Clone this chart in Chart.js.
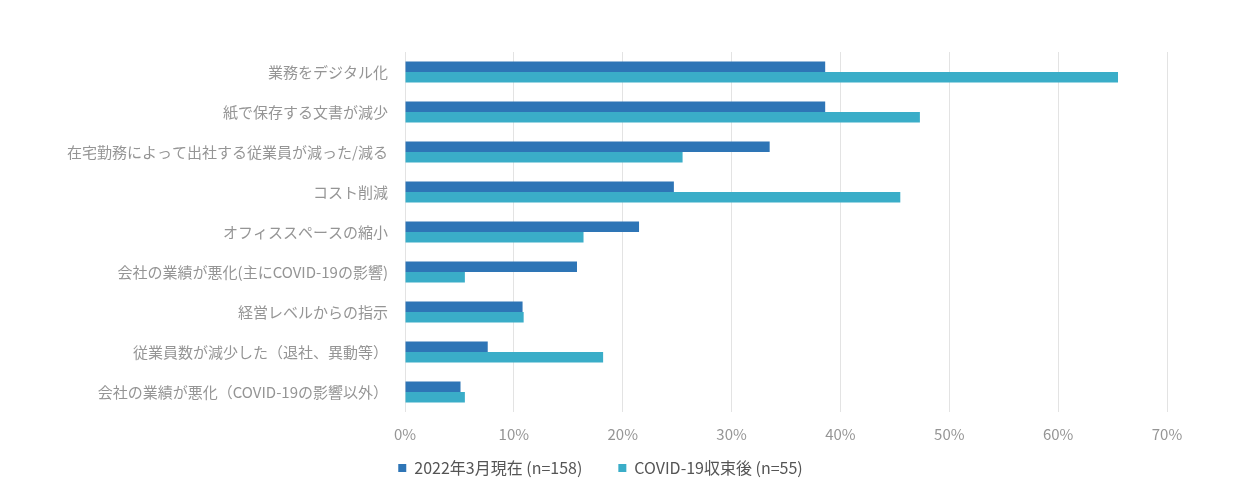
<!DOCTYPE html>
<html>
<head>
<meta charset="utf-8">
<script src="https://cdn.jsdelivr.net/npm/chart.js@4"></script>
<style>
html,body{margin:0;padding:0;background:#fff;}
#wrap{width:1256px;height:493px;}
</style>
</head>
<body>
<div id="wrap"><canvas id="c" width="1256" height="493"></canvas></div>
<script>
const categories = [
  "業務をデジタル化",
  "紙で保存する文書が減少",
  "在宅勤務によって出社する従業員が減った/減る",
  "コスト削減",
  "オフィススペースの縮小",
  "会社の業績が悪化(主にCOVID-19の影響)",
  "経営レベルからの指示",
  "従業員数が減少した（退社、異動等）",
  "会社の業績が悪化（COVID-19の影響以外）"
];
const seriesNames = ["2022年3月現在 (n=158)", "COVID-19収束後 (n=55)"];
const current2022 = [38.6, 38.6, 33.5, 24.7, 21.5, 15.8, 10.8, 7.6, 5.1];
const afterCovid = [65.5, 47.3, 25.5, 45.5, 16.4, 5.5, 10.9, 18.2, 5.5];
const tickValues = [0, 10, 20, 30, 40, 50, 60, 70];

const FONT = "'Noto Sans CJK JP', 'Noto Sans', sans-serif";
const GRAY = '#959595';

// nudge the legend block into the reference's place (layout only)
const legendNudge = {
  id: 'legendNudge',
  afterLayout(chart) {
    const lg = chart.legend;
    if (!lg) return;
    const dy = -32, dx = 17;
    lg.top += dy;
    lg.bottom = chart.height;
    lg.height = lg.bottom - lg.top;
    lg.left += dx; lg.right += dx;
  }
};

new Chart(document.getElementById('c'), {
  type: 'bar',
  data: {
    labels: categories,
    datasets: [
      { label: seriesNames[0], data: current2022, backgroundColor: '#2E75B6', borderWidth: 0 },
      { label: seriesNames[1], data: afterCovid, backgroundColor: '#3AADC8', borderWidth: 0 }
    ]
  },
  plugins: [legendNudge],
  options: {
    indexAxis: 'y',
    responsive: false,
    animation: false,
    devicePixelRatio: 1,
    categoryPercentage: 0.53,
    barPercentage: 1.0,
    layout: { padding: { top: 52, right: 89, left: 0, bottom: 0 } },
    plugins: {
      legend: {
        position: 'bottom',
        maxHeight: 37,
        labels: {
          boxWidth: 8, boxHeight: 8, padding: 36,
          color: '#555555',
          font: { family: FONT, size: 16 }
        }
      },
      tooltip: { enabled: false }
    },
    scales: {
      x: {
        min: 0, max: 70,
        afterBuildTicks: (s) => { s.ticks = tickValues.map(v => ({ value: v })); },
        ticks: {
          color: GRAY, padding: 13,
          font: { family: FONT, size: 15 },
          callback: (v) => v + '%'
        },
        grid: { color: '#e3e3e3', lineWidth: 1, drawTicks: false },
        border: { display: false }
      },
      y: {
        afterFit: (s) => { s.width = 405; },
        ticks: {
          color: GRAY, padding: 17,
          font: { family: FONT, size: 15 }
        },
        grid: { display: false, drawTicks: false },
        border: { display: false }
      }
    }
  }
});
</script>
</body>
</html>
